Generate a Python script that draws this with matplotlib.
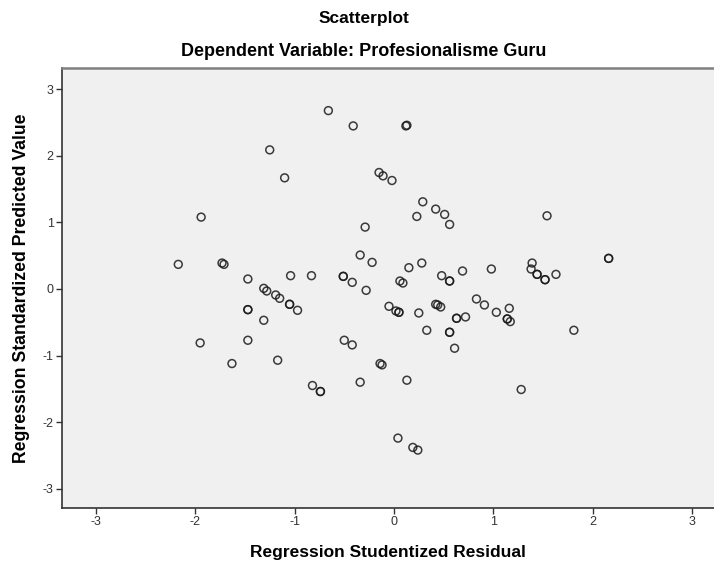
import numpy as np
import matplotlib.pyplot as plt

plt.rcParams['font.family'] = ['Liberation Sans', 'DejaVu Sans']
plt.rcParams['axes.unicode_minus'] = False

# studentized residual (x) and standardized predicted value (y)
resid = [-0.66, -0.41, 0.12, 0.13, -1.25, -1.10, -0.15, -0.11, -0.02, -1.94,
         -0.29, 0.29, 0.23, 0.42, 0.51, 0.56, 1.54, 2.16, 2.16, -0.34,
         -0.22, -2.17, -1.73, -1.71, -1.47, -1.04, -0.83, -0.51, -0.51, -0.42,
         -0.28, -1.31, -1.28, -1.19, -1.15, -1.05, -1.05, -0.97, -1.47, -1.47,
         -1.31, -1.47, -1.95, -1.63, -1.17, -0.82, -0.74, -0.74, -0.50, -0.42,
         -0.14, -0.12, -0.34, -0.05, 0.15, 0.28, 0.48, 0.56, 0.56, 0.69,
         0.98, 1.39, 1.38, 1.44, 1.44, 1.52, 1.52, 1.63, 0.06, 0.09,
         0.02, 0.05, 0.05, 0.25, 0.33, 0.42, 0.44, 0.47, 0.63, 0.63,
         0.72, 0.56, 0.56, 0.61, 0.83, 0.91, 1.03, 1.16, 1.14, 1.14,
         1.17, 1.81, 0.13, 1.28, 0.04, 0.19, 0.24]
pred = [2.68, 2.45, 2.45, 2.46, 2.09, 1.67, 1.75, 1.70, 1.63, 1.08,
        0.93, 1.31, 1.09, 1.20, 1.12, 0.97, 1.10, 0.46, 0.46, 0.51,
        0.40, 0.37, 0.39, 0.37, 0.15, 0.20, 0.20, 0.19, 0.19, 0.10,
        -0.02, 0.01, -0.03, -0.09, -0.14, -0.23, -0.23, -0.32, -0.31, -0.31,
        -0.47, -0.77, -0.81, -1.12, -1.07, -1.45, -1.54, -1.54, -0.77, -0.84,
        -1.12, -1.14, -1.40, -0.26, 0.32, 0.39, 0.20, 0.12, 0.12, 0.27,
        0.30, 0.39, 0.30, 0.22, 0.22, 0.14, 0.14, 0.22, 0.12, 0.09,
        -0.33, -0.35, -0.35, -0.36, -0.62, -0.23, -0.24, -0.27, -0.44, -0.44,
        -0.42, -0.65, -0.65, -0.89, -0.15, -0.24, -0.35, -0.29, -0.45, -0.45,
        -0.49, -0.62, -1.37, -1.51, -2.24, -2.38, -2.42]

ticks = [-3, -2, -1, 0, 1, 2, 3]

fig = plt.figure(figsize=(7.14, 5.65), dpi=100)
ax = fig.add_axes([62/714, 1-508/565, (714-62)/714, 440/565])
ax.set_facecolor('#f0f0f0')

ax.scatter(resid, pred, s=32, facecolors='none', edgecolors='#1a1a1a',
           linewidths=1.1, alpha=0.85)

ax.set_xlim(-3.34, 3.22)
ax.set_ylim(-3.29, 3.32)
ax.set_xticks(ticks)
ax.set_yticks(ticks)
ax.tick_params(direction='out', length=4, width=1, color='#333333',
               labelsize=9, labelcolor='#333333', pad=2)

for s in ['left', 'bottom']:
    ax.spines[s].set_color('#333333')
    ax.spines[s].set_linewidth(1.2)
ax.spines['top'].set_color('#808080')
ax.spines['top'].set_linewidth(1.8)
ax.spines['right'].set_visible(False)

ax.set_xlabel('Regression Studentized Residual', fontsize=12.5, fontweight='bold', labelpad=12)
ax.set_ylabel('Regression Standardized Predicted Value', fontsize=12.7, fontweight='bold', labelpad=9)

fig.text(364/714, 1-19/565, 'Scatterplot', ha='center', va='center', fontsize=12.5, fontweight='bold')
fig.text(364/714, 1-51/565, 'Dependent Variable: Profesionalisme Guru', ha='center', va='center',
         fontsize=13, fontweight='bold')

fig.savefig('out.png', dpi=100)
